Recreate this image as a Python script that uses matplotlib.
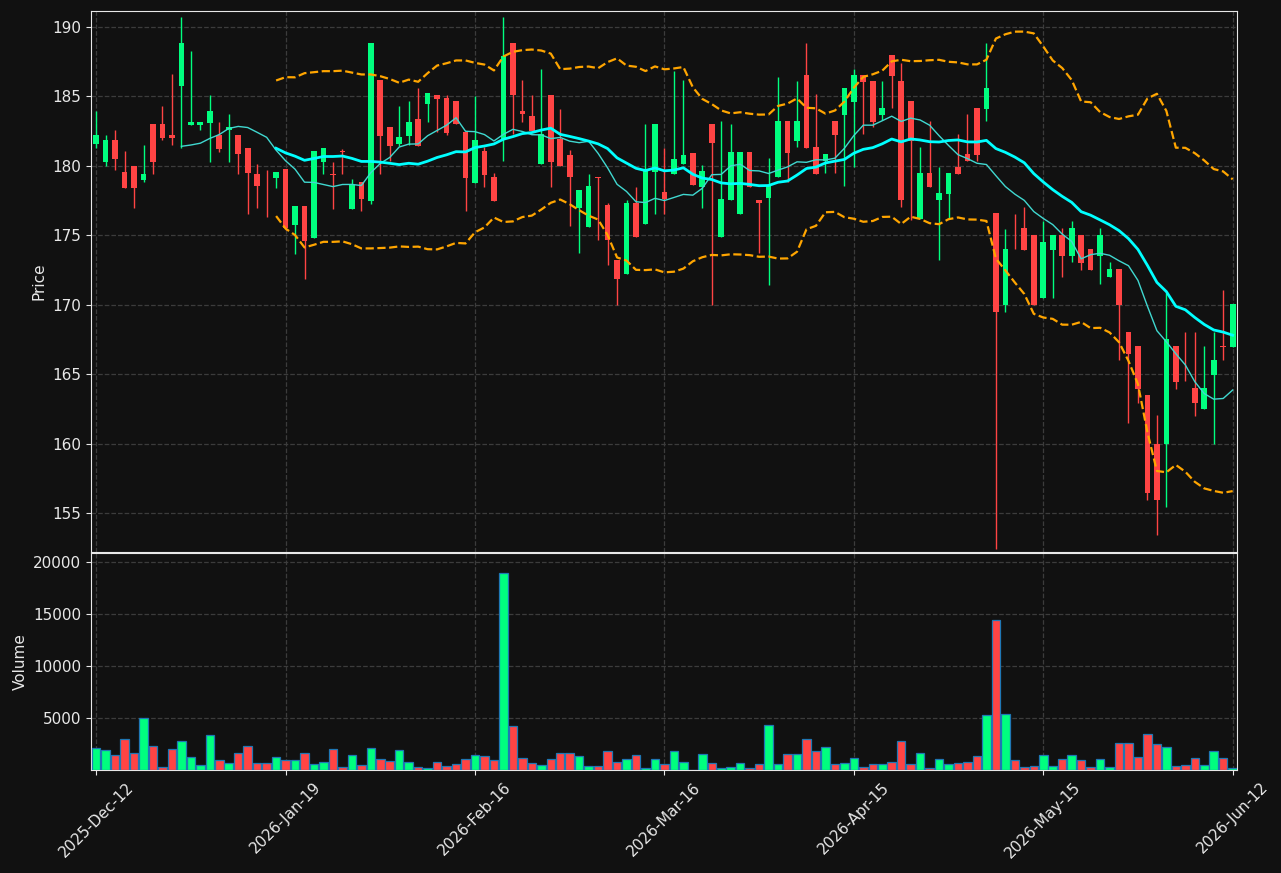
import numpy as np
import pandas as pd
import matplotlib
matplotlib.use("Agg")
import matplotlib.pyplot as plt

# OHLC + volume, one row per bar
opens = [181.60, 180.30, 181.86, 179.56, 180.00, 179.01, 183.01, 183.01, 182.22, 185.78,
         182.97, 182.97, 183.11, 182.22, 182.56, 182.22, 181.29, 179.41, 178.50, 179.15,
         179.77, 175.77, 177.11, 174.83, 180.30, 179.42, 181.08, 176.92, 178.81, 177.47,
         186.18, 182.80, 181.55, 182.17, 183.37, 184.48, 185.10, 184.86, 184.67, 182.44,
         178.79, 181.07, 179.20, 181.86, 188.85, 183.95, 183.59, 180.11, 185.08, 181.90,
         180.75, 176.98, 175.59, 179.20, 177.15, 173.19, 172.23, 177.34, 175.83, 179.55,
         178.09, 179.41, 180.15, 180.94, 178.47, 183.03, 174.87, 177.53, 176.53, 180.97,
         177.56, 177.68, 179.19, 183.22, 181.81, 186.54, 181.33, 180.34, 183.22, 183.68,
         184.62, 186.54, 186.08, 183.66, 187.98, 186.10, 184.66, 176.17, 179.48, 177.56,
         177.99, 179.91, 180.85, 184.14, 184.11, 176.60, 169.97, 174.05, 175.50, 175.00,
         170.51, 173.97, 175.00, 173.54, 175.00, 173.99, 173.54, 172.02, 172.55, 168.01,
         167.00, 163.47, 159.99, 159.99, 167.00, 164.52, 163.98, 162.49, 164.94, 167.00,
         166.95]
highs = [183.95, 182.20, 182.58, 181.05, 180.00, 181.48, 183.01, 184.29, 186.59, 190.72,
         188.25, 183.16, 185.08, 183.16, 183.71, 182.22, 181.29, 180.11, 179.73, 179.56,
         179.77, 177.11, 177.11, 181.07, 181.29, 180.30, 181.24, 179.03, 178.81, 188.85,
         186.18, 182.80, 184.31, 184.67, 185.58, 185.25, 185.10, 185.08, 184.67, 182.44,
         185.03, 181.36, 179.51, 190.72, 188.85, 186.16, 185.08, 186.95, 185.08, 184.11,
         181.11, 178.28, 179.43, 179.20, 177.34, 173.19, 177.51, 178.47, 183.03, 183.03,
         181.30, 186.80, 186.20, 180.94, 180.03, 183.03, 183.20, 183.03, 180.97, 180.97,
         177.56, 180.58, 186.42, 183.22, 186.08, 188.86, 185.14, 180.82, 183.22, 185.58,
         186.97, 186.54, 186.08, 186.08, 187.98, 187.42, 184.66, 181.33, 183.22, 179.91,
         179.48, 182.26, 183.73, 184.14, 188.86, 176.60, 175.49, 176.51, 177.02, 175.00,
         176.01, 175.00, 175.50, 176.01, 175.00, 173.99, 175.50, 173.06, 172.55, 168.01,
         167.00, 163.47, 162.03, 170.84, 167.00, 168.01, 168.01, 167.00, 168.01, 171.03,
         170.02]
lows = [181.26, 179.97, 179.73, 178.43, 176.94, 178.81, 179.39, 181.84, 181.48, 181.26,
        182.97, 182.56, 180.30, 181.02, 180.30, 179.39, 176.51, 176.94, 176.34, 178.43,
        175.40, 173.68, 171.83, 174.83, 179.39, 176.92, 179.39, 176.92, 176.73, 177.28,
        179.39, 180.35, 181.43, 181.50, 181.45, 183.13, 182.41, 182.20, 182.99, 176.75,
        178.79, 178.48, 177.49, 180.35, 182.27, 183.16, 182.51, 180.11, 178.48, 179.98,
        175.64, 173.74, 175.59, 174.68, 172.83, 169.95, 172.23, 174.87, 175.83, 176.55,
        176.55, 179.41, 180.15, 178.61, 176.98, 169.95, 174.87, 177.53, 176.53, 178.47,
        173.74, 171.44, 179.19, 178.86, 181.33, 181.30, 179.43, 179.46, 179.46, 178.54,
        179.94, 182.26, 182.77, 183.30, 184.14, 177.05, 176.09, 176.17, 178.47, 173.24,
        176.17, 179.43, 180.37, 180.37, 183.20, 152.45, 169.49, 173.99, 173.97, 170.00,
        170.51, 170.51, 172.02, 173.06, 172.50, 172.50, 171.52, 172.02, 166.00, 161.50,
        162.92, 155.91, 153.44, 155.43, 163.95, 164.48, 162.01, 162.49, 159.99, 165.99,
        166.95]
closes = [182.22, 181.86, 180.52, 178.43, 178.43, 179.41, 180.30, 182.03, 182.03, 188.85,
          183.16, 183.16, 183.95, 181.24, 182.80, 180.88, 179.51, 178.57, 178.45, 179.56,
          175.55, 177.11, 174.59, 181.07, 181.29, 179.37, 181.03, 178.62, 177.64, 188.85,
          182.17, 181.45, 182.08, 183.16, 181.45, 185.25, 184.84, 182.39, 182.99, 179.15,
          181.86, 179.37, 177.49, 187.89, 185.08, 183.71, 182.51, 182.27, 180.30, 179.98,
          179.19, 178.28, 178.52, 179.15, 174.68, 171.85, 177.34, 174.87, 179.72, 183.03,
          177.61, 180.46, 180.75, 178.61, 179.60, 181.64, 177.58, 180.97, 180.97, 178.47,
          177.32, 178.59, 183.20, 180.94, 183.22, 181.30, 179.43, 180.82, 182.22, 185.58,
          186.54, 186.06, 183.18, 184.14, 186.49, 177.53, 181.81, 179.48, 178.47, 178.04,
          179.48, 179.43, 180.37, 180.78, 185.58, 169.49, 174.01, 173.99, 173.97, 170.01,
          174.52, 175.00, 173.54, 175.50, 173.03, 172.50, 175.00, 172.55, 170.01, 166.46,
          163.93, 156.44, 155.91, 167.50, 164.43, 164.48, 162.92, 163.98, 165.99, 166.95,
          170.02]
volumes = [2115, 1923, 1442, 2981, 1635, 5000, 2308, 288, 2019, 2788,
           1250, 481, 3365, 962, 673, 1635, 2308, 673, 673, 1250,
           962, 962, 1635, 577, 769, 2019, 288, 1442, 481, 2115,
           1058, 865, 1923, 769, 288, 192, 769, 385, 577, 1058,
           1442, 1346, 962, 18942, 4231, 1154, 673, 481, 1058, 1635,
           1635, 1346, 385, 385, 1827, 769, 1058, 1442, 192, 1058,
           577, 1827, 769, 30, 1538, 673, 192, 288, 673, 192,
           577, 4327, 577, 1538, 1538, 2981, 1827, 2211, 577, 673,
           1154, 288, 577, 577, 769, 2788, 577, 1635, 192, 1058,
           577, 673, 769, 1346, 5288, 14423, 5385, 962, 288, 385,
           1442, 385, 1058, 1442, 962, 288, 1058, 288, 2596, 2596,
           1250, 3461, 2500, 2211, 385, 481, 1154, 481, 1827, 1154,
           192]
tick_labels = ["2025-Dec-12", "2026-Jan-19", "2026-Feb-16", "2026-Mar-16",
               "2026-Apr-15", "2026-May-15", "2026-Jun-12"]

BG = "#111111"
UP = "#00ff7f"
DOWN = "#ff4444"
FG = "#e8e8e8"
GRID = "#3c3c3c"


def style_axes(ax):
    ax.set_facecolor(BG)
    for s in ax.spines.values():
        s.set_color(FG)
    ax.tick_params(colors=FG, labelsize=11)
    ax.grid(True, color=GRID, linestyle="--", linewidth=0.9)
    ax.set_axisbelow(True)


def main():
    df = pd.DataFrame({"open": opens, "high": highs, "low": lows,
                       "close": closes, "volume": volumes})
    x = np.arange(len(df))
    up = df["close"] >= df["open"]
    colors = np.where(up, UP, DOWN)

    # indicators
    sma10 = df["close"].rolling(10).mean()
    sma20 = df["close"].rolling(20).mean()
    std20 = df["close"].rolling(20).std(ddof=0)
    bb_up = sma20 + 2 * std20
    bb_lo = sma20 - 2 * std20

    fig = plt.figure(figsize=(12.81, 8.73), dpi=100, facecolor=BG)
    ax = fig.add_axes([0.0710, 0.3677, 0.8946, 0.6197])
    axv = fig.add_axes([0.0710, 0.1180, 0.8946, 0.2486], sharex=ax)
    style_axes(ax)
    style_axes(axv)

    # candles
    ax.vlines(x, df["low"], df["high"], colors=colors, linewidth=1, zorder=2)
    body = (df["close"] - df["open"]).abs()
    bottom = df[["open", "close"]].min(axis=1)
    ax.bar(x, body, bottom=bottom, width=0.6, color=colors, linewidth=0, zorder=3)

    ax.plot(x, sma10, color="#40d8d0", linewidth=1, zorder=4)
    ax.plot(x, sma20, color="#00ffff", linewidth=2, zorder=4)
    ax.plot(x, bb_up, color="orange", linestyle="--", linewidth=1.6, zorder=4)
    ax.plot(x, bb_lo, color="orange", linestyle="--", linewidth=1.6, zorder=4)

    ax.set_ylim(152.2, 191.15)
    ax.set_yticks(np.arange(155, 191, 5))
    ax.set_ylabel("Price", color=FG, fontsize=11)
    ax.tick_params(axis="x", bottom=False, labelbottom=False)

    # volume
    axv.bar(x, df["volume"], width=0.9, color=colors, edgecolor="#1f77b4",
            linewidth=0.9, zorder=3)
    axv.set_ylim(0, 20900)
    axv.set_yticks([5000, 10000, 15000, 20000])
    axv.set_ylabel("Volume", color=FG, fontsize=11)

    ticks = np.arange(0, len(df), 20)
    axv.set_xticks(ticks)
    axv.set_xticklabels(tick_labels, rotation=45)
    axv.set_xlim(-0.55, len(df) - 0.55)

    fig.savefig("out.png", dpi=100, facecolor=BG)


if __name__ == "__main__":
    main()
